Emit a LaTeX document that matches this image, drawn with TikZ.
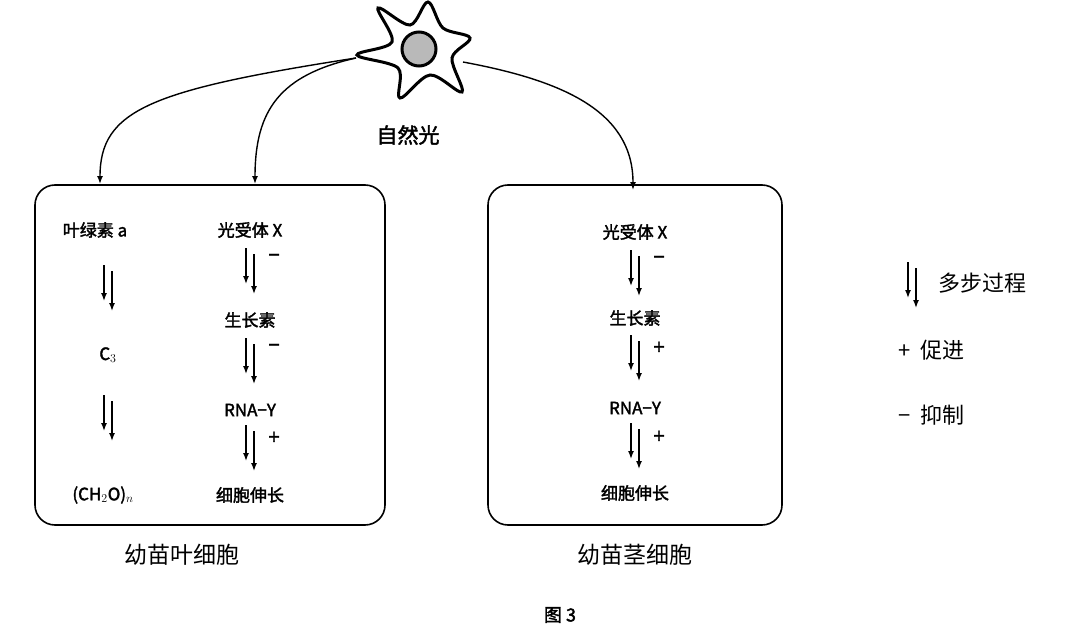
\documentclass[tikz,border=0pt]{standalone}
\usepackage{fontspec}
\usetikzlibrary{arrows.meta}
\setmainfont{Liberation Serif}
\newfontfamily\cjk{Noto Sans CJK SC}[AutoFakeBold=2]
\begin{document}
\begin{tikzpicture}[x=1pt,y=-1pt,
  t/.style={font=\cjk\bfseries\fontsize{17}{17}\selectfont,inner sep=1pt},
  captxt/.style={font=\cjk\fontsize{23}{23}\selectfont},
  bx/.style={draw,line width=1.6pt,rounded corners=20pt},
  ar/.style={-{Latex[length=8pt,width=6pt]},line width=1.4pt},
  sg/.style={font=\cjk\bfseries\fontsize{20}{20}\selectfont,inner sep=0pt}]
\useasboundingbox (0,0) rectangle (1066,642);
\newcommand{\dbl}[2]{\draw[ar] (#1-4,#2) -- ++(0,36); \draw[ar] (#1+4,#2+6) -- ++(0,40);}
% sun
\draw[line width=3pt,fill=white] plot[smooth cycle,tension=0.55] coordinates {
 (428,2) (443,28) (470,38) (452,58) (462,92) (430,75) (400,98) (398,68) (357,55) (392,42) (378,8) (410,25)};
\node[circle,draw,line width=3pt,fill=gray!55,minimum size=34pt] (core) at (419,49) {};
\coordinate (sl) at (356,58); \coordinate (sr) at (463,62);
\node[t,font=\cjk\bfseries\fontsize{21}{21}\selectfont] (nat) at (408,135) {自然光};
\draw[bx] (35,185) rectangle (385,525);
\draw[bx] (488,185) rectangle (782,525);
\coordinate (a1) at (100,184); \coordinate (a2) at (255,184); \coordinate (a3) at (633,190);
\draw[ar] (sl) .. controls (150,90) and (100,110) .. (a1);
\draw[ar] (sl) .. controls (280,75) and (255,110) .. (a2);
\draw[ar] (sr) .. controls (560,80) and (633,110) .. (a3);
% left column 1
\node[t] (l1) at (95,230) {叶绿素 a};
\dbl{108}{265}
\node[t] (l2) at (108,355) {C$_3$};
\dbl{108}{395}
\node[t] (l3) at (103,495) {(CH$_2$O)$_n$};
% left column 2
\node[t] (m1) at (250,230) {光受体 X};
\dbl{250}{248} \node[sg] at (274,258) {−};
\node[t] (m2) at (250,320) {生长素};
\dbl{250}{338} \node[sg] at (274,348) {−};
\node[t] (m3) at (250,410) {RNA−Y};
\dbl{250}{425} \node[sg] at (274,438) {+};
\node[t] (m4) at (250,495) {细胞伸长};
% right
\node[t] (r1) at (635,232) {光受体 X};
\dbl{635}{250} \node[sg] at (659,260) {−};
\node[t] (r2) at (635,318) {生长素};
\dbl{635}{335} \node[sg] at (659,348) {+};
\node[t] (r3) at (635,408) {RNA−Y};
\dbl{635}{423} \node[sg] at (659,437) {+};
\node[t] (r4) at (635,493) {细胞伸长};
% legend
\dbl{912}{262}
\node[captxt,anchor=west,font=\cjk\fontsize{22}{22}\selectfont] (g1) at (935,283) {多步过程};
\node[captxt,anchor=west,font=\cjk\fontsize{22}{22}\selectfont] (g2) at (895,350) {+\ \ 促进};
\node[captxt,anchor=west,font=\cjk\fontsize{22}{22}\selectfont] (g3) at (895,415) {−\ \ 抑制};
\node[captxt] (c1) at (182,555) {幼苗叶细胞};
\node[captxt] (c2) at (635,555) {幼苗茎细胞};
\node[t,font=\cjk\bfseries\fontsize{18}{18}\selectfont] (fig) at (560,615) {图 3};
\end{tikzpicture}
\end{document}
